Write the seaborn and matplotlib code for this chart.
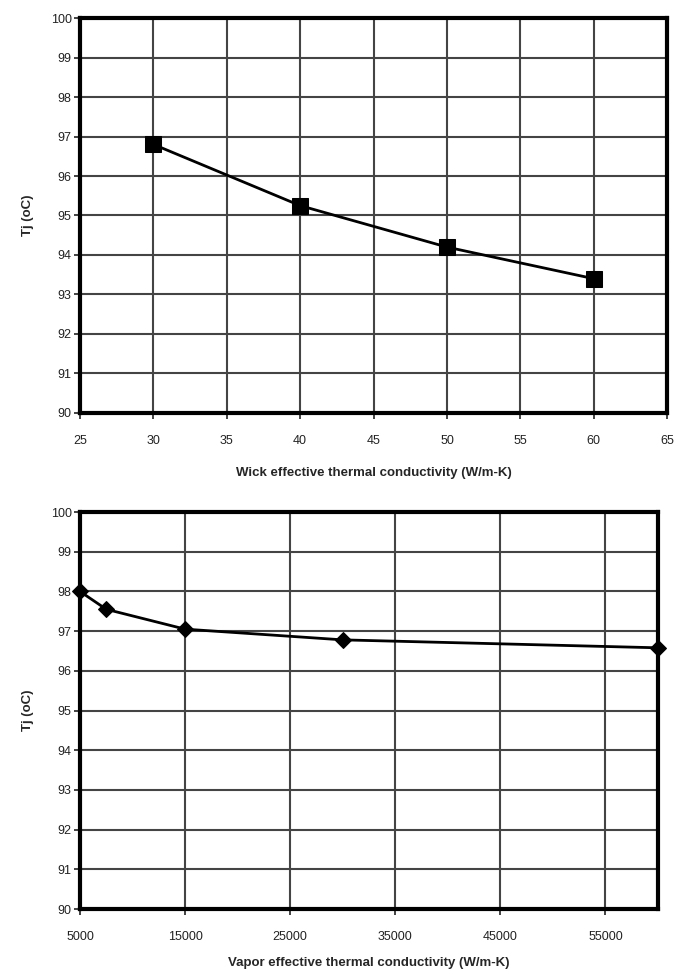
import matplotlib
matplotlib.use("Agg")
import matplotlib.pyplot as plt
import seaborn as sns
import pandas as pd

# Data
wick_k = [30, 40, 50, 60]
wick_tj = [96.8, 95.25, 94.2, 93.4]
vapor_k = [5000, 7500, 15000, 30000, 60000]
vapor_tj = [98.0, 97.55, 97.05, 96.78, 96.58]

top_xticks = [25, 30, 35, 40, 45, 50, 55, 60, 65]
bot_xticks = [5000, 15000, 25000, 35000, 45000, 55000]
yticks = list(range(90, 101))

sns.set_theme(style="white")
plt.rcParams['font.family'] = ['Liberation Sans', 'DejaVu Sans']

fig = plt.figure(figsize=(6.78, 9.74), dpi=100)
ax1 = fig.add_axes([0.118, 0.576, 0.866, 0.4055])
ax2 = fig.add_axes([0.118, 0.0667, 0.8525, 0.4076])

df1 = pd.DataFrame({"k": wick_k, "tj": wick_tj})
df2 = pd.DataFrame({"k": vapor_k, "tj": vapor_tj})

sns.lineplot(data=df1, x="k", y="tj", ax=ax1, color="black", lw=2.0,
             marker="s", markersize=11, markeredgecolor="black", zorder=5)
sns.lineplot(data=df2, x="k", y="tj", ax=ax2, color="black", lw=2.0,
             marker="D", markersize=8, markeredgecolor="black", zorder=5,
             clip_on=False)

for ax, xt, xl, lp in [(ax1, top_xticks, "Wick effective thermal conductivity (W/m-K)", 14),
                       (ax2, bot_xticks, "Vapor effective thermal conductivity (W/m-K)", 10)]:
    ax.set_ylim(90, 100)
    ax.set_yticks(yticks)
    ax.set_xticks(xt)
    ax.set_xticklabels([str(v) for v in xt])
    ax.grid(True, color="#444444", lw=1.5)
    ax.set_axisbelow(True)
    for s in ax.spines.values():
        s.set_visible(True)
        s.set_color("black")
        s.set_linewidth(3)
    ax.tick_params(axis="both", labelsize=9, colors="#222222", length=4,
                   direction="out", left=True, bottom=True, width=1.2)
    ax.tick_params(axis="x", pad=12)
    ax.tick_params(axis="y", pad=2)
    ax.set_xlabel(xl, fontsize=9.5, fontweight="bold", labelpad=lp)
    ax.set_ylabel("Tj (oC)", fontsize=9.5, fontweight="bold", labelpad=12)

ax1.set_xlim(25, 65)
ax2.set_xlim(5000, 60000)

fig.savefig("out.png", dpi=100, facecolor="white")
